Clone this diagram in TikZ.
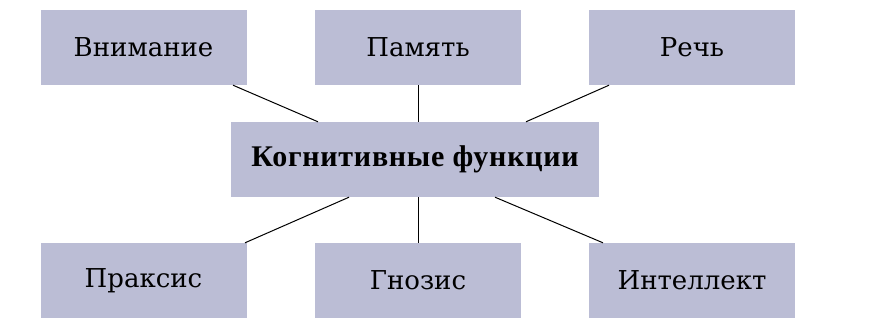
\documentclass[tikz,border=0pt]{standalone}
\usepackage{fontspec}
\setmainfont{DejaVu Serif}
\newfontfamily\boldserif[LetterSpace=2.5]{Liberation Serif}
\definecolor{boxfill}{HTML}{BBBDD5}
\begin{document}
\begin{tikzpicture}[x=1pt,y=-1pt,
  box/.style={fill=boxfill,draw=none,minimum width=206pt,minimum height=75pt,inner sep=0pt,font=\fontsize{26}{30}\selectfont},
  link/.style={draw=black,line width=1pt}]
\useasboundingbox (0,0) rectangle (874,327);
\node[box] (vn) at (143.5,47.5) {Внимание};
\node[box] (pm) at (418,47.5) {Память};
\node[box] (re) at (692,47.5) {Речь};
\node[box,minimum width=368pt,font=\boldserif\fontsize{30}{34}\selectfont\bfseries] (kf) at (415,159.5) {Когнитивные функции};
\node[box] (pr) at (143.5,280.5) {Праксис};
\node[box] (gn) at (418,280.5) {Гнозис};
\node[box] (in) at (692,280.5) {Интеллект};
\draw[link] (vn.south -| 233,0) -- (kf.north -| 318,0);
\draw[link] (pm.south) -- (kf.north -| pm.south);
\draw[link] (re.south -| 609,0) -- (kf.north -| 526,0);
\draw[link] (kf.south -| 349,0) -- (pr.north -| 245,0);
\draw[link] (kf.south -| gn.north) -- (gn.north);
\draw[link] (kf.south -| 495,0) -- (in.north -| 603,0);
\end{tikzpicture}
\end{document}
